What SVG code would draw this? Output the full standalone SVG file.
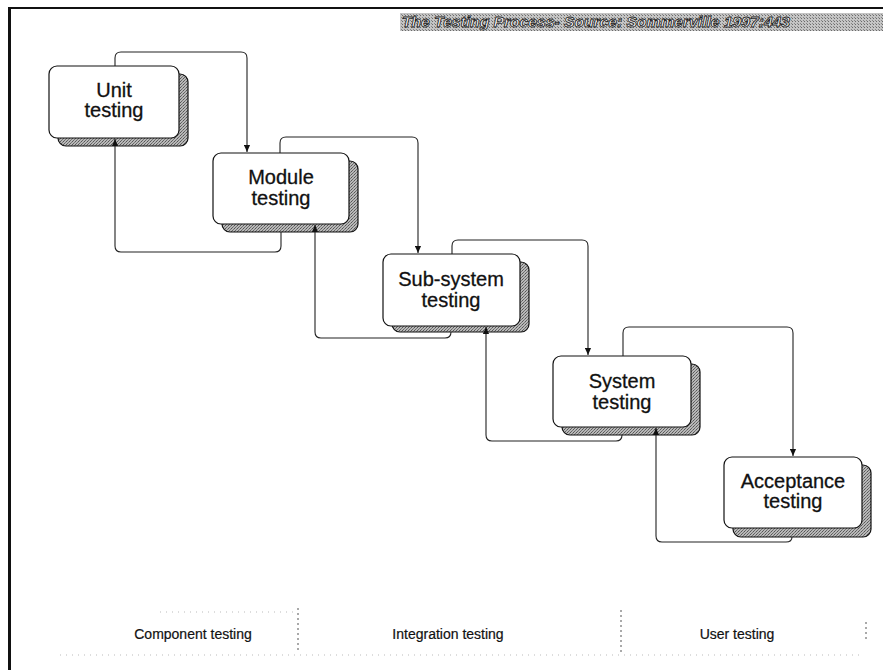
<svg xmlns="http://www.w3.org/2000/svg" width="883" height="670" viewBox="0 0 883 670">
<style>
.box{fill:#fff;stroke:#111;stroke-width:1.2}
.shadow{fill:url(#stip);stroke:#111;stroke-width:1.2}
.lbl{font-family:"Liberation Sans",Arial,sans-serif;font-size:20px;fill:#111;stroke:#111;stroke-width:0.3;text-anchor:middle}
.conn{fill:none;stroke:#222;stroke-width:1.1}
.bot{font-family:"Liberation Sans",Arial,sans-serif;font-size:14px;fill:#111;stroke:#111;stroke-width:0.2;text-anchor:middle}
.sep{stroke:#555;stroke-width:1;stroke-dasharray:2 3}
.faint{stroke:#bbb;stroke-width:1;stroke-dasharray:1 5}
</style>
<defs>
<pattern id="stip" width="3" height="3" patternUnits="userSpaceOnUse">
<rect width="3" height="3" fill="#b8b8b8"/>
<rect width="1" height="1" fill="#555"/>
<rect x="2" y="1" width="1" height="1" fill="#777"/>
<rect x="1" y="2" width="1" height="1" fill="#666"/>
</pattern>
<pattern id="stip2" width="3" height="3" patternUnits="userSpaceOnUse">
<rect width="3" height="3" fill="#c4c4c4"/>
<rect width="1" height="1" fill="#6a6a6a"/>
<rect x="2" y="2" width="1" height="1" fill="#888"/>
</pattern>
<marker id="arr" viewBox="0 0 8 8" refX="8" refY="4" markerWidth="7" markerHeight="7" orient="auto" markerUnits="userSpaceOnUse">
<path d="M0,0.5 L8,4 L0,7.5 z" fill="#111"/>
</marker>
</defs>
<rect width="883" height="670" fill="#fff"/>
<g id="frame">
<rect x="8" y="7" width="3" height="663" fill="#111"/>
<rect x="8" y="7" width="875" height="2" fill="#111"/>
</g>
<g id="title">
<rect x="400" y="13" width="483" height="18" fill="url(#stip2)"/>
<text x="402" y="27" font-family="'Liberation Sans',Arial,sans-serif" font-size="14" font-style="italic" font-weight="bold" fill="#fff" stroke="#222" stroke-width="0.8" textLength="388" lengthAdjust="spacingAndGlyphs">The Testing Process- Source: Sommerville 1997:443</text>
</g>
<g id="unit">
<rect class="shadow" x="58" y="74" width="130" height="72" rx="8"/>
<rect class="box" x="49" y="66" width="130" height="72" rx="8"/>
<text class="lbl" x="114" y="97">Unit</text>
<text class="lbl" x="114" y="117">testing</text>
</g>
<g id="module">
<rect class="shadow" x="222" y="161" width="136" height="71" rx="8"/>
<rect class="box" x="213" y="153" width="136" height="71" rx="8"/>
<text class="lbl" x="281" y="184">Module</text>
<text class="lbl" x="281" y="205">testing</text>
</g>
<g id="subsystem">
<rect class="shadow" x="392" y="262" width="137" height="70" rx="8"/>
<rect class="box" x="383" y="254" width="137" height="72" rx="8"/>
<text class="lbl" x="451" y="286">Sub-system</text>
<text class="lbl" x="451" y="307">testing</text>
</g>
<g id="system">
<rect class="shadow" x="562" y="364" width="138" height="71" rx="8"/>
<rect class="box" x="553" y="356" width="138" height="71" rx="8"/>
<text class="lbl" x="622" y="388">System</text>
<text class="lbl" x="622" y="409">testing</text>
</g>
<g id="acceptance">
<rect class="shadow" x="733" y="465" width="138" height="72" rx="8"/>
<rect class="box" x="724" y="457" width="138" height="71" rx="8"/>
<text class="lbl" x="793" y="488">Acceptance</text>
<text class="lbl" x="793" y="508">testing</text>
</g>
<g id="connectors">
<path class="conn" d="M115,66 V58 Q115,52 121,52 H241 Q247,52 247,58 V152" marker-end="url(#arr)"/>
<path class="conn" d="M281,232 V246 Q281,252 275,252 H121 Q115,252 115,246 V139" marker-end="url(#arr)"/>
<path class="conn" d="M280,153 V143 Q280,137 286,137 H412 Q418,137 418,143 V253" marker-end="url(#arr)"/>
<path class="conn" d="M451,332 Q451,338 445,338 H321 Q315,338 315,332 V225" marker-end="url(#arr)"/>
<path class="conn" d="M452,254 V246 Q452,240 458,240 H582 Q588,240 588,246 V355" marker-end="url(#arr)"/>
<path class="conn" d="M622,435 Q622,441 616,441 H492 Q486,441 486,435 V327" marker-end="url(#arr)"/>
<path class="conn" d="M623,356 V333 Q623,327 629,327 H787 Q793,327 793,333 V456" marker-end="url(#arr)"/>
<path class="conn" d="M792,537 Q792,542 786,542 H662 Q656,542 656,536 V428" marker-end="url(#arr)"/>
</g>
<g id="bottom">
<line class="faint" x1="160" y1="612" x2="295" y2="612"/>
<line class="faint" x1="60" y1="655" x2="860" y2="655"/>
<line class="sep" x1="298" y1="608" x2="298" y2="652"/>
<line class="sep" x1="621" y1="610" x2="621" y2="655"/>
<line class="sep" x1="866" y1="622" x2="866" y2="642"/>
<text class="bot" x="193" y="639">Component testing</text>
<text class="bot" x="448" y="639">Integration testing</text>
<text class="bot" x="737" y="639">User testing</text>
</g>
</svg>
